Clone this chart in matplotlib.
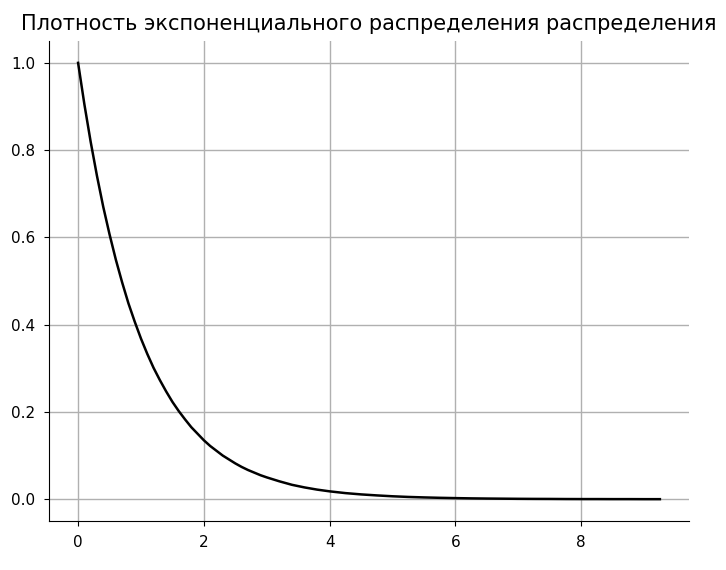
import matplotlib
matplotlib.use("Agg")
import matplotlib.pyplot as plt

# values
x_vals = [0.0, 0.1, 0.2, 0.3, 0.4, 0.5, 0.6, 0.7, 0.8, 0.9, 1.0,
          1.1, 1.2, 1.3, 1.4, 1.5, 1.6, 1.7, 1.8, 1.9, 2.0,
          2.1, 2.2, 2.3, 2.4, 2.5, 2.6, 2.7, 2.8, 2.9, 3.0,
          3.2, 3.4, 3.6, 3.8, 4.0, 4.25, 4.5,
          4.75, 5.0, 5.25, 5.5, 5.75, 6.0, 6.25, 6.5, 6.75, 7.0,
          7.25, 7.5, 7.75, 8.0, 8.25, 8.5, 8.75, 9.0, 9.25]
y_vals = [1.0, 0.905, 0.819, 0.741, 0.670, 0.607, 0.549, 0.497, 0.449, 0.407, 0.368,
          0.333, 0.301, 0.273, 0.247, 0.223, 0.202, 0.183, 0.165, 0.150, 0.135,
          0.122, 0.111, 0.100, 0.091, 0.082, 0.074, 0.067, 0.061, 0.055, 0.050,
          0.041, 0.033, 0.027, 0.022, 0.018, 0.014, 0.011,
          0.0087, 0.0067, 0.0052, 0.0041, 0.0032, 0.0025, 0.0019, 0.0015, 0.0012, 0.0009,
          0.0007, 0.0006, 0.0004, 0.0003, 0.0003, 0.0002, 0.0002, 0.0001, 0.0001]

title = "Плотность экспоненциального распределения распределения"

fig, ax = plt.subplots(figsize=(7.26, 5.7), dpi=100)
fig.subplots_adjust(left=0.0675, right=0.949, top=0.928, bottom=0.086)

ax.plot(x_vals, y_vals, color="black", lw=1.8)
ax.grid(True, color="#b0b0b0", lw=1)
ax.spines["top"].set_visible(False)
ax.spines["right"].set_visible(False)
ax.set_title(title, fontsize=15, pad=8)
ax.tick_params(labelsize=11, length=3.6, pad=6.5)

fig.savefig("out.png", dpi=100)
